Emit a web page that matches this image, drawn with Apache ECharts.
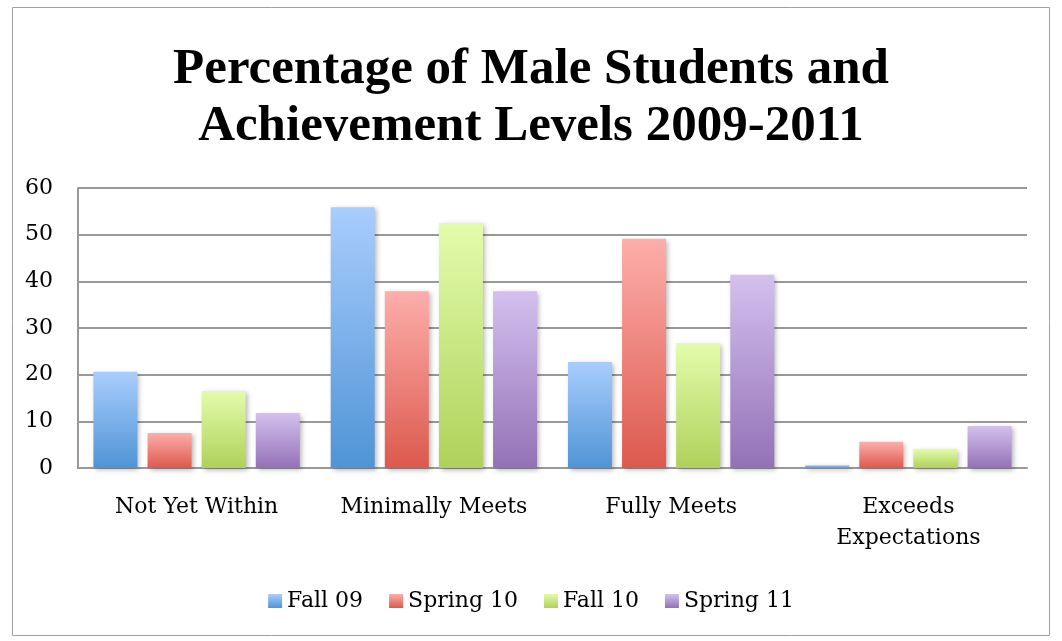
<!DOCTYPE html>
<html><head><meta charset="utf-8">
<script src="https://cdn.jsdelivr.net/npm/echarts@6/dist/echarts.min.js"></script>
<style>html,body{margin:0;padding:0;background:#fff}#c{width:1062px;height:641px}</style>
</head><body><div id="c"></div>
<script>
const categories = ['Not Yet Within', 'Minimally Meets', 'Fully Meets', 'Exceeds\nExpectations'];
const seriesNames = ['Fall 09', 'Spring 10', 'Fall 10', 'Spring 11'];
const fall09 = [20.6, 55.9, 22.7, 0.6];
const spring10 = [7.5, 37.9, 49.1, 5.6];
const fall10 = [16.5, 52.5, 26.8, 4.1];
const spring11 = [11.8, 37.9, 41.4, 9.0];
const yTicks = [0, 10, 20, 30, 40, 50, 60];

const values = [fall09, spring10, fall10, spring11];
const gradients = [['#a9cdfd', '#4f94d6'], ['#fdaeaa', '#dc594d'], ['#e3fcac', '#afd15a'], ['#d4c0ef', '#9371b6']];
const titleFont = '"Liberation Serif", "DejaVu Serif", serif';
const font = '"DejaVu Serif", "Liberation Serif", serif';

const chart = echarts.init(document.getElementById('c'));
chart.setOption({
  animation: false,
  graphic: [{
    type: 'rect', shape: { x: 12.5, y: 7.5, width: 1037, height: 628 },
    style: { fill: 'none', stroke: '#a0a0a0', lineWidth: 1 }, silent: true, z: -10
  }],
  title: {
    text: 'Percentage of Male Students and\nAchievement Levels 2009-2011',
    left: 'center', top: 36,
    textStyle: { fontFamily: titleFont, fontSize: 51, fontWeight: 'bold', color: '#000', lineHeight: 57 }
  },
  legend: {
    data: seriesNames, bottom: 24, left: 'center', itemWidth: 14, itemHeight: 14, itemGap: 26,
    icon: 'rect',
    textStyle: { fontFamily: font, fontSize: 22, color: '#000' }
  },
  grid: { left: 78, right: 35, top: 188, bottom: 173, containLabel: false },
  xAxis: {
    type: 'category', data: categories,
    axisLine: { lineStyle: { color: '#999', width: 2 } },
    axisTick: { show: false },
    axisLabel: { interval: 0, fontFamily: font, fontSize: 22, color: '#000', margin: 24, lineHeight: 31 }
  },
  yAxis: {
    type: 'value', min: 0, max: 60, interval: 10,
    axisLine: { show: true, lineStyle: { color: '#999', width: 2 } },
    axisTick: { show: false },
    splitLine: { lineStyle: { color: '#999', width: 2 } },
    axisLabel: { fontFamily: font, fontSize: 22, color: '#000', margin: 25,
      formatter: v => yTicks.includes(v) ? String(v) : '' }
  },
  series: seriesNames.map((n, i) => ({
    name: n, type: 'bar', data: values[i], barWidth: 44, barGap: '23%', barCategoryGap: '13%',
    itemStyle: {
      color: new echarts.graphic.LinearGradient(0, 0, 0, 1, [
        { offset: 0, color: gradients[i][0] }, { offset: 1, color: gradients[i][1] }]),
      shadowBlur: 5, shadowColor: 'rgba(0,0,0,0.3)', shadowOffsetX: 2, shadowOffsetY: 2
    }
  }))
});
</script></body></html>
